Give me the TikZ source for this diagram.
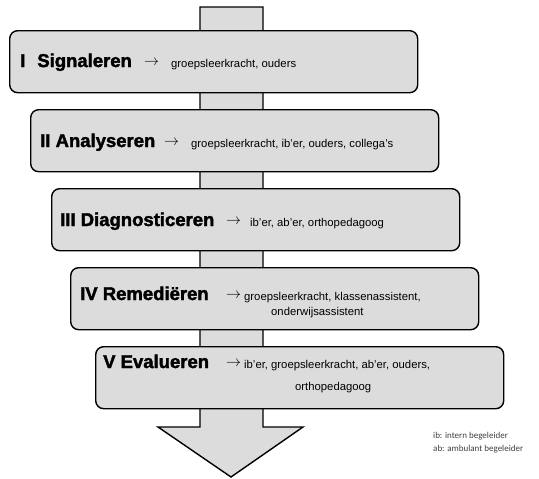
\documentclass[tikz,border=0pt]{standalone}
\usepackage{fontspec}
\setmainfont{Liberation Sans}
\newfontfamily\heavyfont[FakeBold=2]{Liberation Sans Bold}
\newfontfamily\legendfont{Carlito}
\definecolor{boxgray}{RGB}{220,220,220}
\newcommand{\myarrow}{\scalebox{1.5}{$\rightarrow$}}
\begin{document}
\begin{tikzpicture}[x=1pt,y=-1pt,
  stage/.style={draw=black, line width=1.4pt, fill=boxgray, rounded corners=8pt,
    minimum width=408pt, minimum height=62pt, inner sep=0pt, anchor=north west},
  title/.style={anchor=base west, font=\heavyfont\fontsize{18.5}{21}\selectfont, inner sep=0pt},
  who/.style={anchor=base west, font=\fontsize{11.3}{13}\selectfont, inner sep=0pt},
  arr/.style={anchor=base west, inner sep=0pt},
  legend/.style={anchor=base west, font=\legendfont\fontsize{9}{11}\selectfont, inner sep=0pt, text=black!75}
]
\useasboundingbox (0,0) rectangle (539,479);
% big arrow behind
\draw[line width=1.4pt, fill=boxgray, line join=miter]
  (200,7) -- (263,7) -- (263,427) -- (303,427) -- (231,477) -- (158,427) -- (200,427) -- cycle;
% stages
\node[stage] (s1) at (9,30) {};
\node[stage] (s2) at (30,109) {};
\node[stage] (s3) at (51,188) {};
\node[stage] (s4) at (70,267) {};
\node[stage] (s5) at (95,346) {};
% texts
\node[title] (t1) at (20,67) {I\hspace{12pt}Signaleren};
\node[arr] (a1) at (144,65) {\myarrow};
\node[who] (w1) at (171,67) {groepsleerkracht, ouders};

\node[title] (t2) at (40,147) {II Analyseren};
\node[arr] (a2) at (164,145) {\myarrow};
\node[who] (w2) at (191,147) {groepsleerkracht, ib'er, ouders, collega's};

\node[title] (t3) at (60,226) {III Diagnosticeren};
\node[arr] (a3) at (226,224) {\myarrow};
\node[who] (w3) at (250,226) {ib'er, ab'er, orthopedagoog};

\node[title] (t4) at (80,300) {IV Remediëren};
\node[arr] (a4) at (226,298) {\myarrow};
\node[who] (w4) at (244,300) {groepsleerkracht, klassenassistent,};
\node[who] (w4b) at (271,315) {onderwijsassistent};

\node[title] (t5) at (103,368) {V Evalueren};
\node[arr] (a5) at (226,366) {\myarrow};
\node[who] (w5) at (244,368) {ib'er, groepsleerkracht, ab'er, ouders,};
\node[who] (w5b) at (295,390) {orthopedagoog};

\node[legend] (l1) at (433,438) {ib: intern begeleider};
\node[legend] (l2) at (433,451) {ab: ambulant begeleider};
\end{tikzpicture}
\end{document}
